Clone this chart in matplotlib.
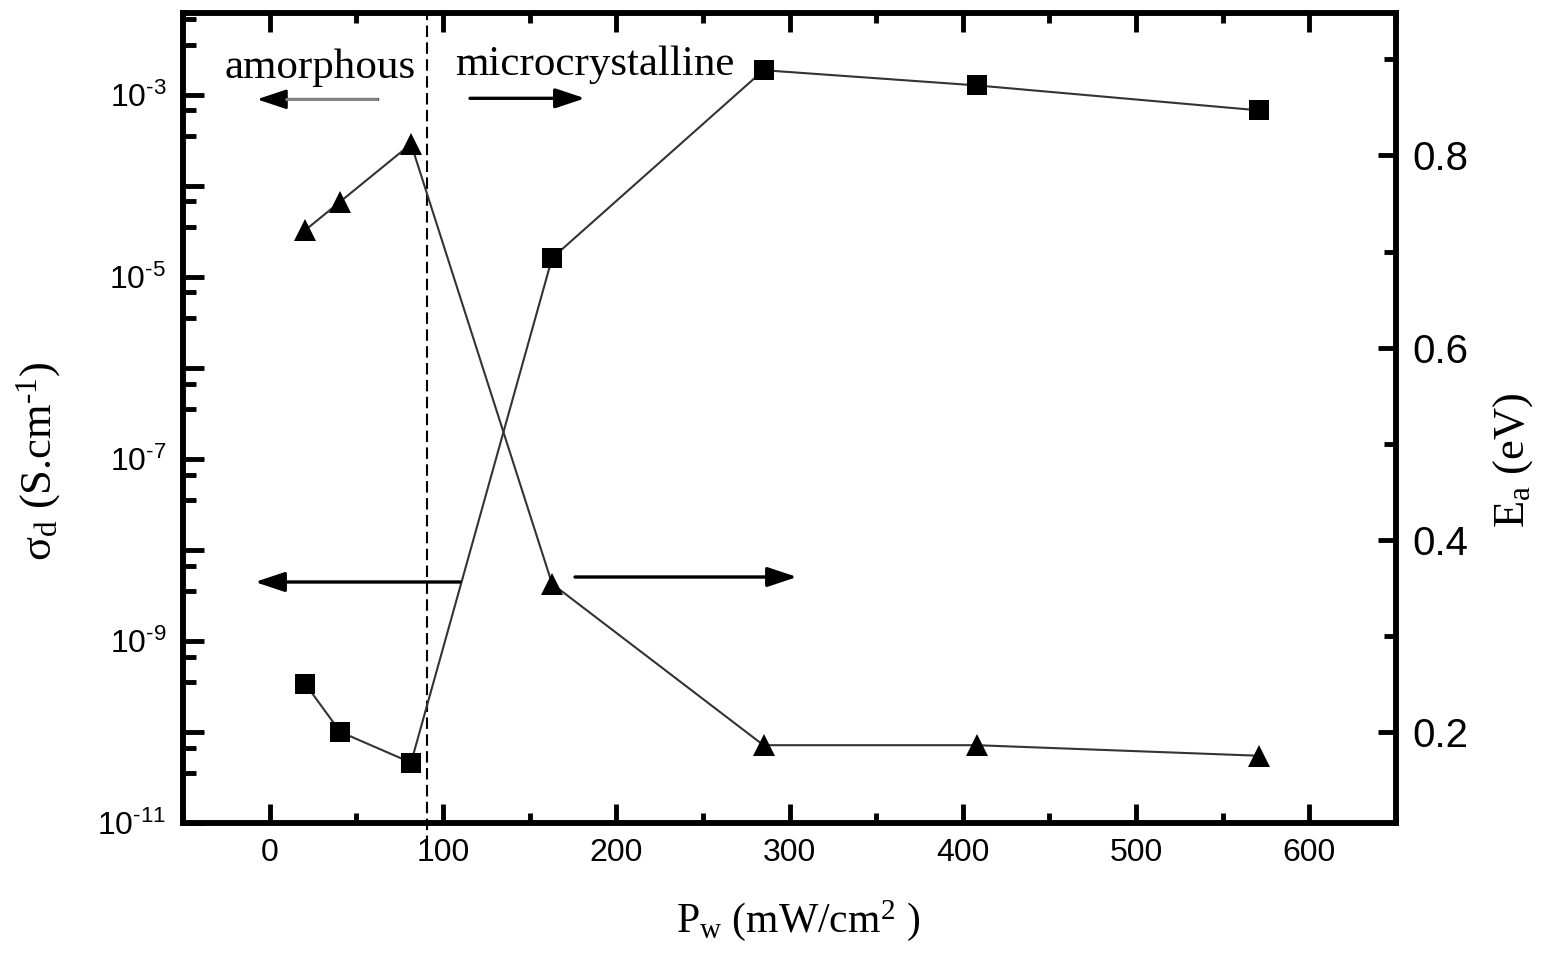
import matplotlib
matplotlib.use("Agg")
import matplotlib.pyplot as plt
from matplotlib.ticker import FixedLocator, FuncFormatter, MultipleLocator
import numpy as np

# ---- data ----
pw = [20.4, 40.8, 81.6, 163, 285, 408, 571]                 # P_w (mW/cm2)
sigma_d = [3.4e-10, 1.0e-10, 4.6e-11, 1.6e-5, 1.85e-3, 1.26e-3, 6.7e-4]  # S/cm
Ea = [0.722, 0.752, 0.812, 0.354, 0.186, 0.186, 0.175]      # eV
boundary_x = 91
left_major_exps = list(range(-11, -2))
left_minor_subs = [3.5, 6.7]

plt.rcParams['mathtext.fontset'] = 'custom'
plt.rcParams['mathtext.rm'] = 'Liberation Serif'
plt.rcParams['mathtext.it'] = 'Liberation Serif:italic'
plt.rcParams['mathtext.sf'] = 'Liberation Sans'
plt.rcParams['font.family'] = ['Liberation Serif', 'DejaVu Serif']

HY = '\u2010'  # hyphen-like minus as in the reference

W, H = 1553, 960
fig = plt.figure(figsize=(W / 100, H / 100), dpi=100)
L, R, T, B = 183, 1396, 13.3, 823
ax = fig.add_axes([L / W, 1 - B / H, (R - L) / W, (B - T) / H])
ax2 = ax.twinx()

line_c = '#333333'
ax.plot(pw, sigma_d, color=line_c, lw=1.5, marker='s', ms=15, mfc='black',
        mec='black', mew=0, zorder=3)
ax2.plot(pw, Ea, color=line_c, lw=1.5, marker='^', ms=16, mfc='black',
         mec='black', mew=0, zorder=3)

ax.set_yscale('log')
ax.set_xlim(-50, 650)
ax.set_ylim(1e-11, 7.8e-3)
ax2.set_ylim(0.105, 0.948)

# x ticks
ax.xaxis.set_major_locator(MultipleLocator(100))
ax.xaxis.set_minor_locator(MultipleLocator(50))
# left log ticks
majors = [10.0 ** e for e in left_major_exps]
minors = [s * 10.0 ** e for e in range(-12, -2) for s in left_minor_subs]
ax.yaxis.set_major_locator(FixedLocator(majors))
ax.yaxis.set_minor_locator(FixedLocator(minors))

def left_fmt(v, pos):
    e = int(round(np.log10(v)))
    if e % 2 == 0:
        return ''
    return r'$\mathsf{10^{%s%d}}$' % (HY, abs(e))

ax.yaxis.set_major_formatter(FuncFormatter(left_fmt))
ax.yaxis.set_minor_formatter(FuncFormatter(lambda v, p: ''))

ax2.yaxis.set_major_locator(MultipleLocator(0.2))
ax2.yaxis.set_minor_locator(MultipleLocator(0.1))
ax2.yaxis.set_major_formatter(FuncFormatter(lambda v, p: '%.1f' % v))

for a in (ax, ax2):
    for s in a.spines.values():
        s.set_linewidth(4)

ax.tick_params(axis='x', which='major', direction='in', length=13.5, width=3.5,
               top=True, bottom=True, pad=11, labelsize=23)
ax.tick_params(axis='x', which='minor', direction='in', length=7.5, width=3.5,
               top=True, bottom=True)
ax.tick_params(axis='y', which='major', direction='in', length=15, width=3.5,
               pad=12, labelsize=23)
ax.tick_params(axis='y', which='minor', direction='in', length=9, width=3.5)
ax2.tick_params(axis='y', which='major', direction='in', length=13, width=3.5,
                pad=12, labelsize=29)
ax2.tick_params(axis='y', which='minor', direction='in', length=8.6, width=3.5)

for lab in ax.get_xticklabels() + ax2.get_yticklabels():
    lab.set_family('Liberation Sans')

# boundary dashed line
ax.axvline(boundary_x, ymin=-0.03, ymax=1, color='black', lw=1.5,
           dashes=(5.5, 2.6), clip_on=False, zorder=2)

# texts
def fx(px):
    return (px - L) / (R - L)

def fy(py):
    return (B - py) / (B - T)

ax.text(fx(225), fy(78), 'amorphous', transform=ax.transAxes, fontsize=31,
        ha='left', va='baseline')
ax.text(fx(455), fy(75), 'microcrystalline', transform=ax.transAxes,
        fontsize=31, ha='left', va='baseline')

def arrow(tail, head, lw=2.4, color='black'):
    ax.annotate('', xy=(fx(head[0]), fy(head[1])),
                xytext=(fx(tail[0]), fy(tail[1])),
                xycoords='axes fraction', textcoords='axes fraction',
                arrowprops=dict(arrowstyle='-|>,head_length=1.2,head_width=0.4',
                                mutation_scale=15, lw=lw, color=color,
                                shrinkA=0, shrinkB=0))

arrow((378, 99.3), (257, 99.3), lw=2.0)
ax.plot([fx(285), fx(378)], [fy(99.3), fy(99.3)], transform=ax.transAxes,
        color='#8a8a8a', lw=2.0, solid_capstyle='butt', zorder=5)
arrow((470, 98.3), (585, 98.3))
arrow((460, 582), (255, 582))
arrow((575, 577), (797, 577))

# axis labels
fig.text(798 / W, 1 - 932 / H, r'P$_{\rm w}$ (mW/cm$^{2}$ )', fontsize=30,
         ha='center', va='baseline')
fig.text(51 / W, 1 - 461 / H, r'σ$_{\rm d}$ (S.cm$^{\rm %s1}$)' % HY, fontsize=32,
         ha='center', va='baseline', rotation=90, rotation_mode='anchor')
fig.text(1524 / W, 1 - 460 / H, r'E$_{\rm a}$ (eV)', fontsize=32,
         ha='center', va='baseline', rotation=90, rotation_mode='anchor')

fig.savefig('out.png', dpi=100)
